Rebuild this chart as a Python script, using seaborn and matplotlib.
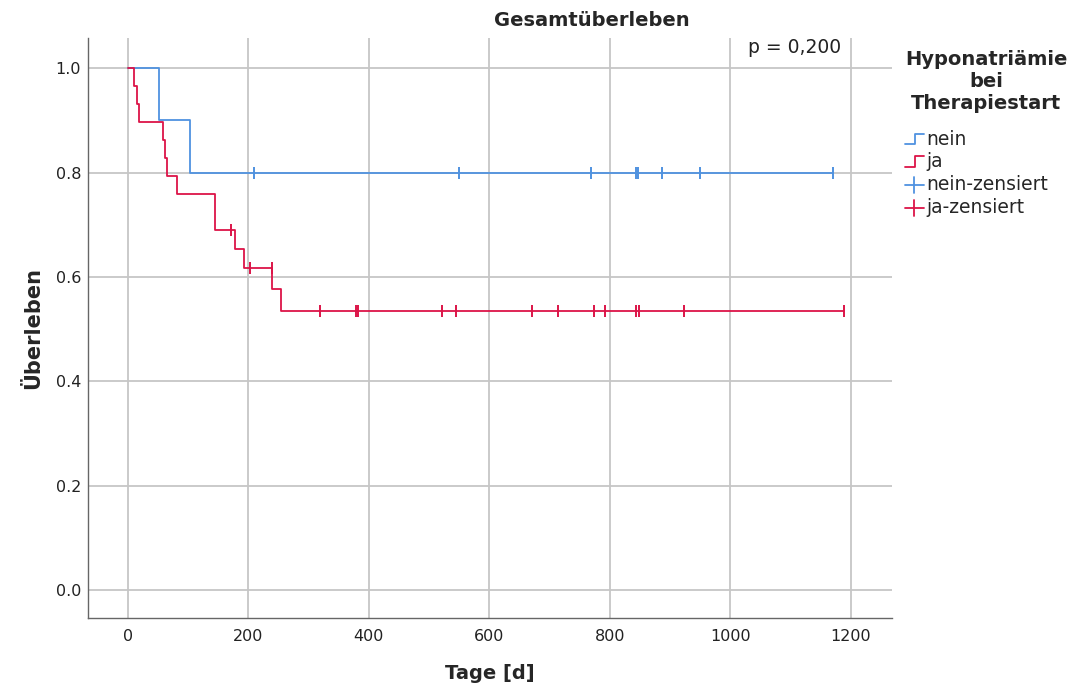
import numpy as np
import pandas as pd
import matplotlib
matplotlib.use("Agg")
import matplotlib.pyplot as plt
from matplotlib.lines import Line2D
from matplotlib.legend_handler import HandlerBase
import seaborn as sns

# ---- data ----
groups = ["nein", "ja"]
nein_event_times = [52, 103]
nein_censor_times = [210, 550, 768, 843, 847, 887, 949, 1170]
ja_event_times = [11, 16, 18, 59, 61, 65, 82, 144, 145, 178, 193, 240, 255]
ja_censor_times = [171, 203, 239, 319, 378, 382, 522, 545, 671, 714, 773, 792,
                   844, 848, 923, 1189]
x_ticks = [0, 200, 400, 600, 800, 1000, 1200]
y_ticks = [0.0, 0.2, 0.4, 0.6, 0.8, 1.0]
p_text = "p = 0,200"
colors = {"nein": "#4f92e0", "ja": "#dc1448"}


def km(events, censors):
    times = sorted(set(events) | set(censors))
    n = len(events) + len(censors)
    s = 1.0
    t_out, s_out = [0], [1.0]
    cens_t, cens_s = [], []
    for t in times:
        d = events.count(t)
        c = censors.count(t)
        if d:
            s *= (1 - d / n)
        t_out.append(t)
        s_out.append(s)
        if c:
            cens_t += [t] * c
            cens_s += [s] * c
        n -= d + c
    return t_out, s_out, cens_t, cens_s


curves = []
cens = []
for g, ev, ce in [("nein", nein_event_times, nein_censor_times),
                  ("ja", ja_event_times, ja_censor_times)]:
    t, s, ct, cs = km(ev, ce)
    curves.append(pd.DataFrame({"Tage": t, "S": s, "Gruppe": g}))
    cens.append(pd.DataFrame({"Tage": ct, "S": cs, "Gruppe": g}))
curve_df = pd.concat(curves, ignore_index=True)
cens_df = pd.concat(cens, ignore_index=True)

sns.set_theme(style="white")
plt.rcParams["font.family"] = ["DejaVu Sans"]

fig = plt.figure(figsize=(10.76, 6.88), dpi=100)
ax = fig.add_axes([88 / 1076, 70 / 688, (892 - 88) / 1076, (618 - 38) / 688])

for g in groups:
    d = curve_df[curve_df.Gruppe == g]
    sns.lineplot(data=d, x="Tage", y="S", ax=ax, color=colors[g],
                 drawstyle="steps-post", linewidth=1.3, estimator=None,
                 sort=False, legend=False)
for g in groups:
    d = cens_df[cens_df.Gruppe == g]
    sns.scatterplot(data=d, x="Tage", y="S", ax=ax, color=colors[g],
                    marker="|", s=65, linewidth=1.4, legend=False, zorder=3)

ax.set_xlim(-66, 1268)
ax.set_ylim(-0.054, 1.058)
ax.set_xticks(x_ticks)
ax.set_yticks(y_ticks)
ax.set_xticklabels([str(v) for v in x_ticks], fontsize=11.5, color="#222222")
ax.set_yticklabels([f"{v:.1f}" for v in y_ticks], fontsize=11.5, color="#222222")
ax.tick_params(axis="y", length=0, pad=5)
ax.tick_params(axis="x", length=0, pad=8)
ax.grid(True, color="#c6c6c6", linewidth=1.3)
ax.set_axisbelow(True)
for sp in ["top", "right"]:
    ax.spines[sp].set_visible(False)
for sp in ["left", "bottom"]:
    ax.spines[sp].set_color("#666666")
    ax.spines[sp].set_linewidth(1.0)

ax.set_xlabel("Tage [d]", fontsize=14, fontweight="bold", labelpad=14)
ax.set_ylabel("Überleben", fontsize=15, fontweight="bold", labelpad=9)
fig.text(592 / 1076, 1 - 20 / 688, "Gesamtüberleben", ha="center", va="center",
         fontsize=14, fontweight="bold")
ax.text(1107, 1.04, p_text, ha="center", va="center", fontsize=13.5,
        color="#222222", bbox=dict(facecolor="white", edgecolor="none", pad=1))


class HandlerStep(HandlerBase):
    def create_artists(self, legend, orig_handle, xdescent, ydescent, width,
                       height, fontsize, trans):
        x0, x1 = -xdescent, -xdescent + width
        ym = -ydescent + height * 0.05
        yt = -ydescent + height * 0.85
        xm = x0 + width * 0.55
        ln = Line2D([x0, xm, xm, x1], [ym, ym, yt, yt],
                    color=orig_handle.get_color(), lw=1.3, transform=trans)
        return [ln]


class HandlerCross(HandlerBase):
    def create_artists(self, legend, orig_handle, xdescent, ydescent, width,
                       height, fontsize, trans):
        x0, x1 = -xdescent, -xdescent + width
        yc = -ydescent + height * 0.4
        xm = (x0 + x1) / 2
        h = Line2D([x0, x1], [yc, yc], color=orig_handle.get_color(), lw=1.3,
                   transform=trans)
        v = Line2D([xm, xm], [yc - height * 0.6, yc + height * 0.6],
                   color=orig_handle.get_color(), lw=1.3, transform=trans)
        return [h, v]


class StepH(Line2D):
    pass


class CrossH(Line2D):
    pass


handles = [StepH([], [], color=colors["nein"]), StepH([], [], color=colors["ja"]),
           CrossH([], [], color=colors["nein"]), CrossH([], [], color=colors["ja"])]
labels = ["nein", "ja", "nein-zensiert", "ja-zensiert"]
leg = fig.legend(handles, labels, title="Hyponatriämie\nbei\nTherapiestart",
                 handler_map={StepH: HandlerStep(), CrossH: HandlerCross()},
                 loc="upper left", bbox_to_anchor=(905 / 1076, 1 - 50 / 688),
                 frameon=False, fontsize=13.5, title_fontsize=14,
                 handlelength=1.0, handletextpad=0.15, labelspacing=0.2,
                 borderaxespad=0, borderpad=0, alignment="left")
leg.get_title().set_fontweight("bold")
leg.get_title().set_multialignment("center")
leg._legend_box.sep = 12

fig.savefig("out.png", dpi=100)
